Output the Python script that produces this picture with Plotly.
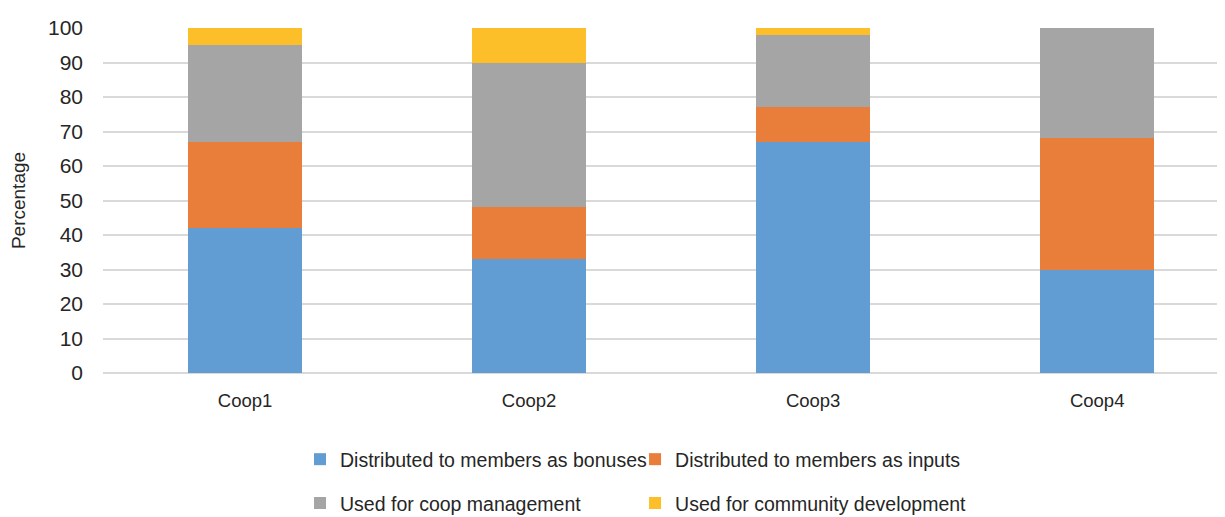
import plotly.graph_objects as go

categories = ["Coop1", "Coop2", "Coop3", "Coop4"]
bonuses = [42, 33, 67, 30]
inputs = [25, 15, 10, 38]
management = [28, 42, 21, 32]
community = [5, 10, 2, 0]
y_ticks = [0, 10, 20, 30, 40, 50, 60, 70, 80, 90, 100]

series = [
    ("Distributed to members as bonuses", bonuses, "#619CD3"),
    ("Distributed to members as inputs", inputs, "#E97D3A"),
    ("Used for coop management", management, "#A5A5A5"),
    ("Used for community development", community, "#FCBF2A"),
]

FONT = "Liberation Sans, Arial, sans-serif"
TXT = "#262626"

legend_ids = ["legend", "legend2", "legend3", "legend4"]
legend_x = [0.1756, 0.4742, 0.1756, 0.4742]
legend_y = [-0.2507, -0.2507, -0.3775, -0.3775]

fig = go.Figure()
for (name, vals, color), leg in zip(series, legend_ids):
    fig.add_trace(go.Bar(
        x=categories, y=vals, name=name, legend=leg, showlegend=True,
        marker=dict(color=color, line=dict(width=0)),
    ))

legends = {}
for leg, lx, ly in zip(legend_ids, legend_x, legend_y):
    legends[leg] = dict(
        orientation="h",
        x=lx, xanchor="left",
        y=ly, yanchor="middle",
        itemwidth=30,
        font=dict(size=19.5, color=TXT),
        bgcolor="rgba(0,0,0,0)",
    )

fig.update_layout(
    showlegend=True,
    barmode="stack",
    bargap=0.6,
    width=1225, height=530,
    margin=dict(l=95, r=8, t=18, b=165),
    plot_bgcolor="white",
    paper_bgcolor="white",
    font=dict(family=FONT, size=19, color=TXT),
    xaxis=dict(
        range=[-0.5, 3.45],
        showgrid=False,
        showline=False,
        ticks="",
        ticklabelstandoff=14,
        tickfont=dict(size=18.5, color=TXT),
    ),
    yaxis=dict(
        range=[0, 100],
        tickvals=y_ticks,
        showgrid=True,
        gridcolor="#D9D9D9",
        gridwidth=2,
        zeroline=True,
        zerolinecolor="#D9D9D9",
        zerolinewidth=2,
        ticks="",
        ticklabelstandoff=19,
        tickfont=dict(size=21, color=TXT),
        title=dict(text="Percentage", font=dict(size=19, color=TXT), standoff=18),
    ),
    **legends,
)

fig.write_html("out.html")
